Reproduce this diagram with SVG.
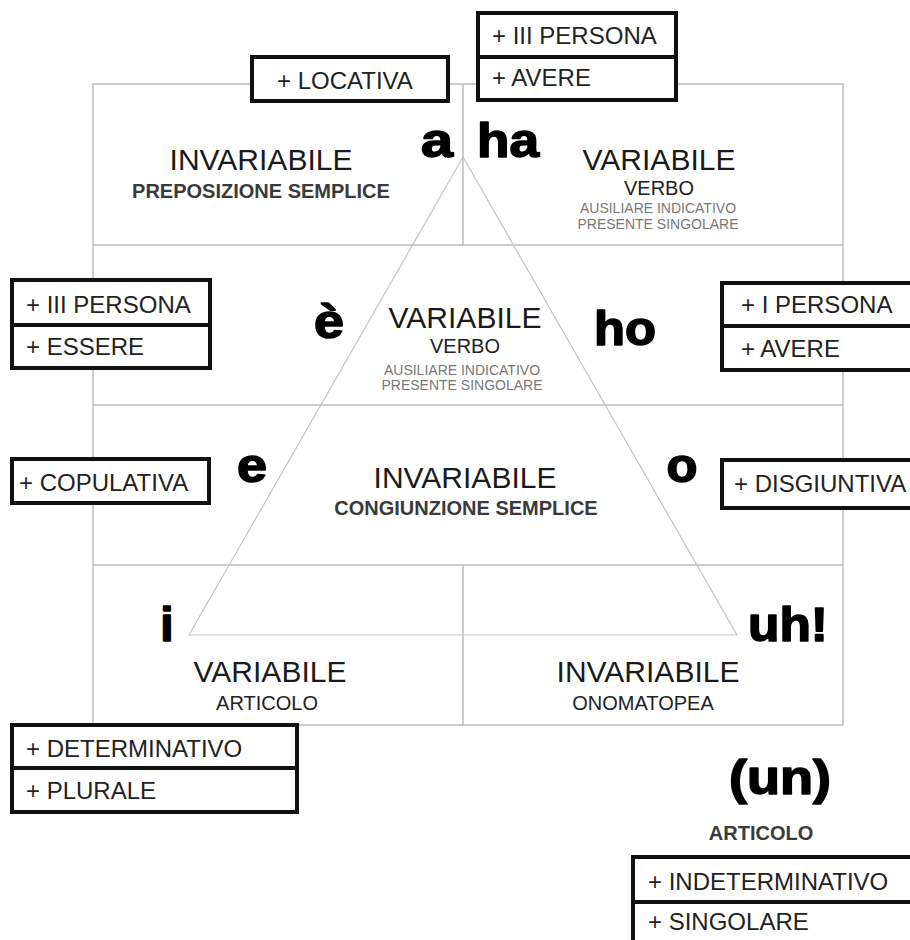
<svg xmlns="http://www.w3.org/2000/svg" width="910" height="940" viewBox="0 0 910 940">
<style>
.grid{fill:none;stroke:#bdbdbd;stroke-width:1.5}
.tri{fill:none;stroke:#c4c4c4;stroke-width:1.2}
.box{fill:#fff;stroke:#111;stroke-width:4}
.div{stroke:#111;stroke-width:4}
.bt{font-family:"Liberation Sans",Arial,sans-serif;font-size:24px;fill:#222}
.big{font-family:"Liberation Sans",Arial,sans-serif;font-size:30px;fill:#1a1a1a;text-anchor:middle}
.sub{font-family:"Liberation Sans",Arial,sans-serif;font-size:20px;font-weight:bold;fill:#3a3a3a;text-anchor:middle}
.sub2{font-family:"Liberation Sans",Arial,sans-serif;font-size:20px;fill:#222;text-anchor:middle}
.tiny{font-family:"Liberation Sans",Arial,sans-serif;font-size:14px;fill:#777;text-anchor:middle}
.w{font-family:"Liberation Sans",Arial,sans-serif;font-size:48px;font-weight:bold;fill:#000;stroke:#000;stroke-width:1.6;stroke-linejoin:round;text-anchor:middle}
</style>
<rect width="910" height="940" fill="#fff"/>
<g id="connectors">
<rect class="grid" x="93" y="84" width="750" height="641"/>
<line class="grid" x1="93" y1="245" x2="843" y2="245"/>
<line class="grid" x1="93" y1="405" x2="843" y2="405"/>
<line class="grid" x1="93" y1="565" x2="843" y2="565"/>
<line class="grid" x1="463" y1="84" x2="463" y2="245"/>
<line class="grid" x1="463" y1="565" x2="463" y2="725"/>
<polygon class="tri" points="463,157 189,635 737,635"/>
</g>
<g id="cell-a">
<text class="big" x="261" y="170">INVARIABILE</text>
<text class="sub" x="261" y="198">PREPOSIZIONE SEMPLICE</text>
<text class="w" x="437" y="157" textLength="32" lengthAdjust="spacingAndGlyphs">a</text>
</g>
<g id="cell-ha">
<text class="w" x="508" y="157" textLength="62" lengthAdjust="spacingAndGlyphs">ha</text>
<text class="big" x="659" y="170">VARIABILE</text>
<text class="sub2" x="659" y="195">VERBO</text>
<text class="tiny" x="658" y="213">AUSILIARE INDICATIVO</text>
<text class="tiny" x="658" y="229">PRESENTE SINGOLARE</text>
</g>
<g id="cell-e-accent">
<text class="w" x="329" y="338" textLength="30" lengthAdjust="spacingAndGlyphs">è</text>
<text class="big" x="465" y="328">VARIABILE</text>
<text class="sub2" x="465" y="353">VERBO</text>
<text class="tiny" x="462" y="375">AUSILIARE INDICATIVO</text>
<text class="tiny" x="462" y="390">PRESENTE SINGOLARE</text>
<text class="w" x="625" y="345" textLength="62" lengthAdjust="spacingAndGlyphs">ho</text>
</g>
<g id="cell-e">
<text class="w" x="252" y="482" textLength="30" lengthAdjust="spacingAndGlyphs">e</text>
<text class="big" x="465" y="488">INVARIABILE</text>
<text class="sub" x="466" y="515">CONGIUNZIONE SEMPLICE</text>
<text class="w" x="682" y="482" textLength="31" lengthAdjust="spacingAndGlyphs">o</text>
</g>
<g id="cell-i">
<text class="w" x="167" y="641">i</text>
<text class="big" x="270" y="682">VARIABILE</text>
<text class="sub2" x="267" y="710">ARTICOLO</text>
</g>
<g id="cell-uh">
<text class="w" x="788" y="641" textLength="80" lengthAdjust="spacingAndGlyphs">uh!</text>
<text class="big" x="648" y="682">INVARIABILE</text>
<text class="sub2" x="643" y="710">ONOMATOPEA</text>
</g>
<g id="box-locativa">
<rect class="box" x="252" y="57" width="196" height="44"/>
<text class="bt" x="277" y="89">+ LOCATIVA</text>
</g>
<g id="box-ha">
<rect class="box" x="478" y="13" width="198" height="87"/>
<line class="div" x1="478" y1="57" x2="676" y2="57"/>
<text class="bt" x="492" y="44">+ III PERSONA</text>
<text class="bt" x="492" y="86">+ AVERE</text>
</g>
<g id="box-e-accent">
<rect class="box" x="12" y="280" width="198" height="88"/>
<line class="div" x1="12" y1="325" x2="210" y2="325"/>
<text class="bt" x="26" y="313">+ III PERSONA</text>
<text class="bt" x="26" y="355">+ ESSERE</text>
</g>
<g id="box-ho">
<rect class="box" x="722" y="283" width="200" height="87"/>
<line class="div" x1="722" y1="326" x2="922" y2="326"/>
<text class="bt" x="741" y="313">+ I PERSONA</text>
<text class="bt" x="741" y="357">+ AVERE</text>
</g>
<g id="box-copulativa">
<rect class="box" x="12" y="459" width="197" height="44"/>
<text class="bt" x="19" y="491">+ COPULATIVA</text>
</g>
<g id="box-disgiuntiva">
<rect class="box" x="722" y="460" width="200" height="48"/>
<text class="bt" x="734" y="492">+ DISGIUNTIVA</text>
</g>
<g id="box-i">
<rect class="box" x="12" y="725" width="285" height="87"/>
<line class="div" x1="12" y1="768" x2="297" y2="768"/>
<text class="bt" x="26" y="757">+ DETERMINATIVO</text>
<text class="bt" x="26" y="799">+ PLURALE</text>
</g>
<g id="node-un">
<text class="w" x="780" y="794" font-size="42" textLength="102" lengthAdjust="spacingAndGlyphs">(un)</text>
<text class="sub" x="761" y="840" font-size="19">ARTICOLO</text>
</g>
<g id="box-un">
<rect class="box" x="633" y="857" width="290" height="95"/>
<line class="div" x1="633" y1="902" x2="923" y2="902"/>
<text class="bt" x="648" y="890">+ INDETERMINATIVO</text>
<text class="bt" x="648" y="930">+ SINGOLARE</text>
</g>
</svg>
